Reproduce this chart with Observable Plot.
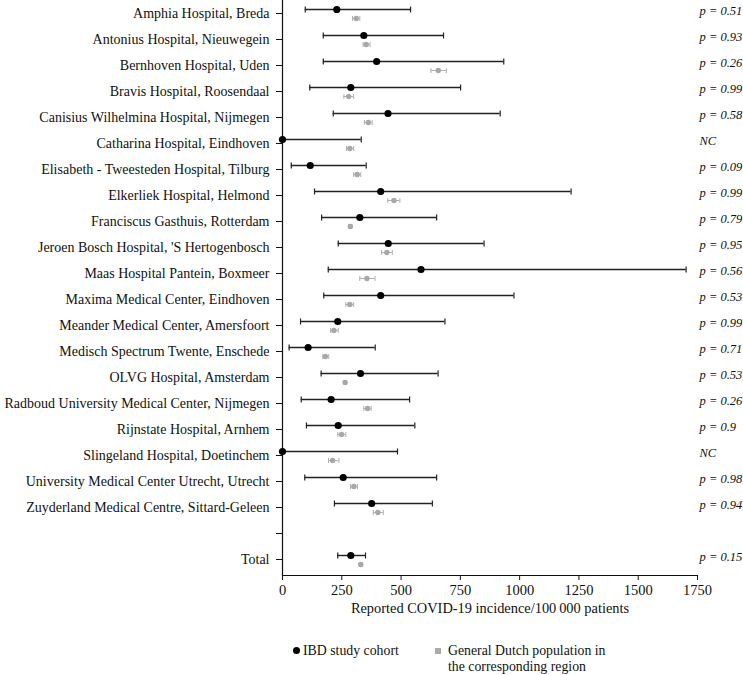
<!DOCTYPE html>
<html>
<head>
<meta charset="utf-8">
<script src="https://cdn.jsdelivr.net/npm/d3@7"></script>
<script src="https://cdn.jsdelivr.net/npm/@observablehq/plot@0.6"></script>
<style>
  body { margin: 0; background: white; }
  #wrap { position: relative; width: 743px; height: 675px; font-family: "Liberation Serif", serif; }
  .leg { position: absolute; font-size: 13.8px; line-height: 16px; color: #111; white-space: nowrap; }
</style>
</head>
<body>
<div id="wrap">
  <div id="chart"></div>
  <div class="leg" style="left:293px; top:643px;"><span style="display:inline-block;width:7px;height:7px;border-radius:50%;background:#000;margin-right:3px;vertical-align:1px;"></span>IBD study cohort</div>
  <div class="leg" style="left:435px; top:643px;"><span style="display:inline-block;width:6px;height:6px;background:#aaa;margin-right:7px;vertical-align:1px;"></span>General Dutch population in</div>
  <div class="leg" style="left:448px; top:659px;">the corresponding region</div>
</div>
<script>
const hospitals = [
  "Amphia Hospital, Breda",
  "Antonius Hospital, Nieuwegein",
  "Bernhoven Hospital, Uden",
  "Bravis Hospital, Roosendaal",
  "Canisius Wilhelmina Hospital, Nijmegen",
  "Catharina Hospital, Eindhoven",
  "Elisabeth - Tweesteden Hospital, Tilburg",
  "Elkerliek Hospital, Helmond",
  "Franciscus Gasthuis, Rotterdam",
  "Jeroen Bosch Hospital, 'S Hertogenbosch",
  "Maas Hospital Pantein, Boxmeer",
  "Maxima Medical Center, Eindhoven",
  "Meander Medical Center, Amersfoort",
  "Medisch Spectrum Twente, Enschede",
  "OLVG Hospital, Amsterdam",
  "Radboud University Medical Center, Nijmegen",
  "Rijnstate Hospital, Arnhem",
  "Slingeland Hospital, Doetinchem",
  "University Medical Center Utrecht, Utrecht",
  "Zuyderland Medical Centre, Sittard-Geleen",
  " ",
  "Total"
];
const ibdRate  = [229, 343, 397, 288, 445, 0, 117, 414, 326, 446, 584, 414, 233, 108, 329, 205, 235, 0, 256, 376, null, 288];
const ibdLow   = [96, 172, 172, 115, 214, 0, 37, 135, 165, 235, 193, 174, 76, 28, 163, 79, 101, 0, 94, 219, null, 233];
const ibdHigh  = [540, 679, 933, 751, 918, 332, 353, 1217, 650, 850, 1702, 976, 685, 391, 656, 536, 558, 485, 650, 632, null, 350];
const popRate  = [311, 353, 657, 279, 362, 284, 315, 470, 286, 440, 356, 284, 217, 181, 264, 359, 249, 211, 301, 402, null, 330];
const popLow   = [295, 340, 626, 259, 345, 270, 300, 444, 280, 418, 326, 267, 203, 170, 258, 343, 233, 194, 287, 383, null, 325];
const popHigh  = [326, 369, 691, 300, 378, 300, 330, 495, 292, 463, 390, 300, 235, 195, 270, 374, 267, 238, 316, 425, null, 335];
const pValues  = ["p = 0.51", "p = 0.93", "p = 0.26", "p = 0.99", "p = 0.58", "NC", "p = 0.09", "p = 0.99", "p = 0.79", "p = 0.95", "p = 0.56", "p = 0.53", "p = 0.99", "p = 0.71", "p = 0.53", "p = 0.26", "p = 0.9", "NC", "p = 0.98", "p = 0.94", "", "p = 0.15"];
const xTicks = [0, 250, 500, 750, 1000, 1250, 1500, 1750];
const xLabel = "Reported COVID-19 incidence/100\u2009000 patients";

const rows = hospitals.map((h, i) => ({
  h, ibd: ibdRate[i], ibdLo: ibdLow[i], ibdHi: ibdHigh[i],
  pop: popRate[i], popLo: popLow[i], popHi: popHigh[i], p: pValues[i]
})).filter(d => d.ibd !== null);

const ibdDy = -4, popDy = 5;

// vertical bar symbol for error-bar caps (half-height = r)
const capSymbol = {
  draw(context, size) {
    const h = Math.sqrt(size / Math.PI);
    context.moveTo(0, -h);
    context.lineTo(0, h);
  }
};

const chart = Plot.plot({
  width: 743,
  height: 630,
  marginLeft: 282,
  marginRight: 46,
  marginTop: 0,
  marginBottom: 55,
  style: { fontFamily: "Liberation Serif", fontSize: "14px", color: "#111", background: "white", overflow: "visible" },
  x: { domain: [0, 1750] },
  y: { type: "point", domain: hospitals, range: [10, 562.7], padding: 0 },
  marks: [
    Plot.axisY({ tickSize: 6, tickPadding: 7, label: null, fontSize: 14 }),
    Plot.axisX({ ticks: xTicks, tickFormat: d => String(d), tickSize: 5, tickPadding: 4, label: null, fontSize: 14.5 }),
    Plot.ruleX([0], { stroke: "#111", strokeWidth: 1.2 }),
    Plot.frame({ anchor: "bottom", stroke: "#111", strokeWidth: 1.2 }),
    // general population
    Plot.ruleY(rows, { y: "h", x1: "popLo", x2: "popHi", dy: popDy, stroke: "#b0b0b0", strokeWidth: 1 }),
    Plot.dot(rows, { y: "h", x: "popLo", dy: popDy, r: 2.5, symbol: capSymbol, stroke: "#b0b0b0", strokeWidth: 1, fill: "none" }),
    Plot.dot(rows, { y: "h", x: "popHi", dy: popDy, r: 2.5, symbol: capSymbol, stroke: "#b0b0b0", strokeWidth: 1, fill: "none" }),
    Plot.dot(rows, { y: "h", x: "pop", dy: popDy, r: 2.7, fill: "#a8a8a8", stroke: "none" }),
    // IBD cohort
    Plot.ruleY(rows, { y: "h", x1: "ibdLo", x2: "ibdHi", dy: ibdDy, stroke: "#222", strokeWidth: 1.4 }),
    Plot.dot(rows, { y: "h", x: "ibdLo", dy: ibdDy, r: 3, symbol: capSymbol, stroke: "#222", strokeWidth: 1.2, fill: "none" }),
    Plot.dot(rows, { y: "h", x: "ibdHi", dy: ibdDy, r: 3, symbol: capSymbol, stroke: "#222", strokeWidth: 1.2, fill: "none" }),
    Plot.dot(rows, { y: "h", x: "ibd", dy: ibdDy, r: 3.6, fill: "#000", stroke: "none" }),
    // p-values
    Plot.text(rows, { y: "h", text: "p", frameAnchor: "right", dx: 2, dy: ibdDy + 1, textAnchor: "start", fontStyle: "italic", fontSize: 12.5, fill: "#111" }),
    // x label
    Plot.text([xLabel], { frameAnchor: "bottom", dy: 37, fontSize: 14.4, fill: "#111" })
  ]
});
document.getElementById("chart").appendChild(chart);
</script>
</body>
</html>
